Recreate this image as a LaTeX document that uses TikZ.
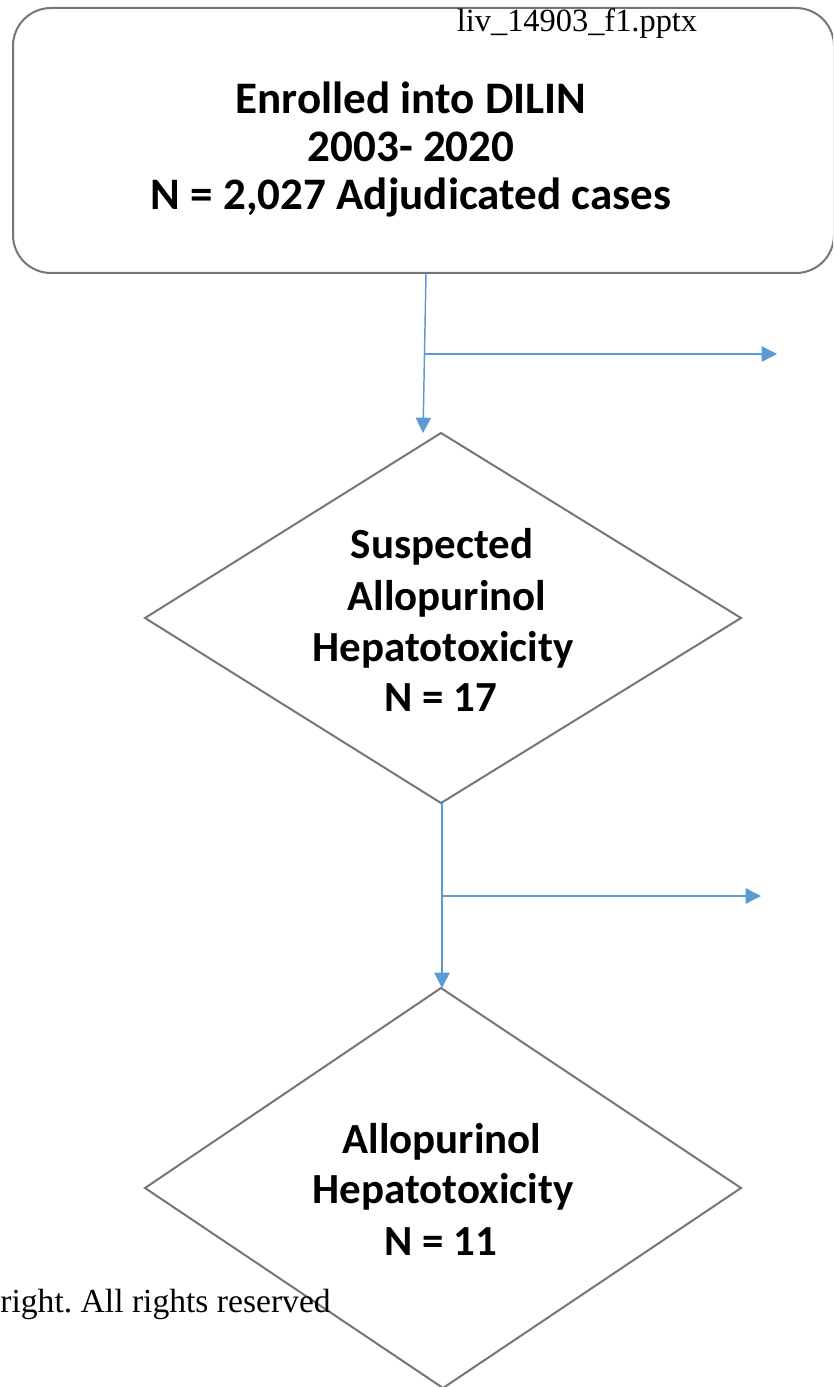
\documentclass[tikz,border=0pt]{standalone}
\usepackage{fontspec}
\setmainfont{Liberation Serif}
\newfontfamily\carlito{Carlito}
\usetikzlibrary{arrows.meta}
\frenchspacing
\definecolor{shapegray}{HTML}{767676}
\definecolor{arrowblue}{HTML}{5B9BD5}
\tikzset{
  shapeline/.style={draw=shapegray, line width=1.5pt},
  flow/.style={draw=arrowblue, line width=1.1pt, -{Triangle[length=11.5pt,width=11.5pt]}},
  boxtext/.style={anchor=base, inner sep=0pt, font=\carlito\bfseries\fontsize{33.8}{40}\selectfont},
  dtext/.style={anchor=base, inner sep=0pt, font=\carlito\bfseries\fontsize{32.2}{38}\selectfont},
  serifnote/.style={inner sep=0pt, font=\fontsize{24.3}{29}\selectfont}
}
\begin{document}
\begin{tikzpicture}[x=0.75pt,y=-0.75pt]
\useasboundingbox (0,0) rectangle (833,1387);
\clip (0,0) rectangle (833,1387);
\fill[white] (0,0) rectangle (833,1387);

% top rounded box
\node[shapeline, rounded corners=28.5pt, minimum width=615.75pt, minimum height=198.75pt, inner sep=0pt] (enr) at (423.5,140.5) {};
\node[serifnote, anchor=base] (hdr) at (577,32) {liv\_14903\_f1.pptx};
\node[boxtext] (e1) at (411,114) {Enrolled into DILIN};
\node[boxtext] (e2) at (411,161.5) {2003- 2020};
\node[boxtext] (e3) at (411,209.5) {N = 2,027 Adjudicated cases};

% diamond 1
\coordinate (d1t) at (441,433);
\coordinate (d1r) at (741,618);
\coordinate (d1b) at (441,803);
\coordinate (d1l) at (145,618);
\draw[shapeline, line join=miter] (d1t) -- (d1r) -- (d1b) -- (d1l) -- cycle;
\node[dtext] (s1) at (442,558) {Suspected};
\node[dtext] (s2) at (442,610) {\ Allopurinol};
\node[dtext] (s3) at (443,661) {Hepatotoxicity};
\node[dtext] (s4) at (441,711) {N = 17};

% diamond 2
\coordinate (d2t) at (441,988);
\coordinate (d2r) at (741,1188);
\coordinate (d2b) at (443,1388);
\coordinate (d2l) at (145,1188);
\draw[shapeline, line join=miter] (d2t) -- (d2r) -- (d2b) -- (d2l) -- cycle;
\node[dtext] (h1) at (442,1153) {Allopurinol};
\node[dtext] (h2) at (443,1203) {Hepatotoxicity};
\node[dtext] (h3) at (441,1255) {N = 11};

% watermark fragment
\node[serifnote, anchor=base east, font=\fontsize{25.2}{29}\selectfont] (cr) at (331,1312) {right. All rights reserved};

% connectors
\coordinate (a1s) at (enr.south -| 426,0);
\coordinate (a1e) at (423,433);
\coordinate (b1s) at (423.6,354);
\coordinate (b1e) at (777,354);
\draw[flow] (a1s) -- (a1e);
\draw[flow] (b1s) -- (b1e);

\coordinate (a2e) at (442,988);
\coordinate (b2s) at (442,896);
\coordinate (b2e) at (761,896);
\draw[flow] (d1b) ++(1,0) coordinate (a2s) (a2s) -- (a2e);
\draw[flow] (b2s) -- (b2e);
\end{tikzpicture}
\end{document}
